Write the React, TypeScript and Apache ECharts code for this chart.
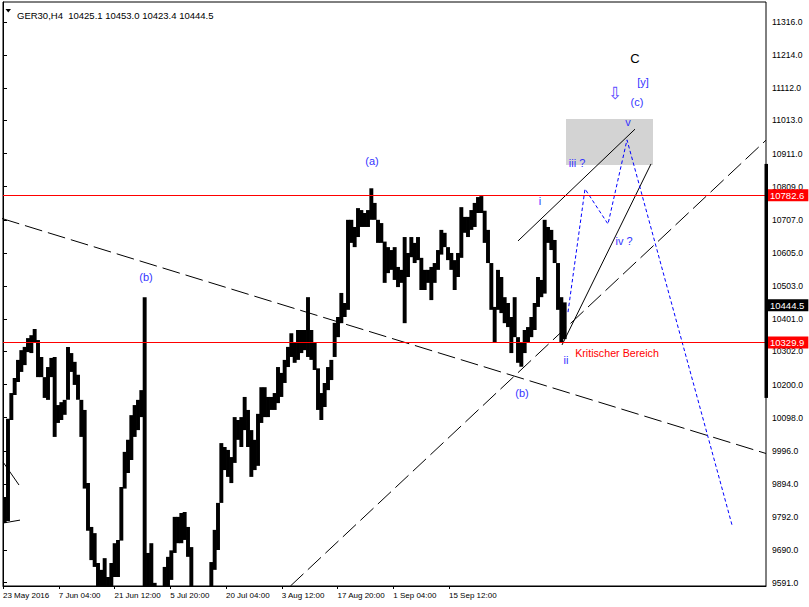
import React, { useEffect, useRef } from "react";
import * as echarts from "echarts";

// ---------- data ----------
const symbolName = "GER30,H4";
const lastBarOHLC = [10425.1, 10453.0, 10423.4, 10444.5];

// aggregated price columns (high / low)
const highs = [
  9854, 10095, 10174, 10220, 10276, 10306, 10316, 10343, 10352, 10371,
  10337, 10285, 10223, 10254, 10282, 10285, 10137, 10146, 10153, 10316,
  10297, 10270, 10230, 10153, 10122, 9897, 9762, 9743, 9651, 9630,
  9666, 9608, 9651, 9712, 9722, 9885, 9993, 10030, 10106, 10137,
  10153, 10183, 10469, 9682, 9712, 9590, 9540, 9540, 9639, 9670,
  9690, 9793, 9793, 9805, 9808, 9762, 9700, 9560, 9550, 9555,
  9560, 9570, 9654, 9753, 9836, 10020, 10008, 9999, 9977, 10100,
  10091, 10100, 10162, 10122, 10060, 10030, 10110, 10192, 10192, 10162,
  10162, 10174, 10254, 10236, 10276, 10316, 10358, 10328, 10368, 10368,
  10368, 10469, 10368, 10328, 10250, 10174, 10205, 10254, 10276, 10390,
  10408, 10482, 10451, 10707, 10707, 10685, 10743, 10737, 10728, 10737,
  10804, 10759, 10707, 10697, 10640, 10623, 10614, 10623, 10562, 10553,
  10654, 10605, 10654, 10636, 10654, 10590, 10553, 10553, 10562, 10574,
  10614, 10676, 10667, 10623, 10605, 10583, 10605, 10746, 10716, 10716,
  10737, 10759, 10777, 10780, 10735, 10676, 10574, 10439, 10553, 10531,
  10469, 10451, 10408, 10469, 10346, 10328, 10368, 10377, 10408, 10451,
  10531, 10522, 10707, 10685, 10676, 10645, 10574, 10469, 10453,
];
const lows = [
  9774, 9780, 10091, 10168, 10208, 10239, 10260, 10300, 10297, 10328,
  10223, 10223, 10159, 10153, 10223, 10039, 10082, 10091, 10107, 10153,
  10239, 10199, 10153, 10039, 9880, 9750, 9660, 9639, 9540, 9520,
  9540, 9530, 9560, 9608, 9608, 9720, 9880, 9928, 9968, 10039,
  10060, 10100, 9250, 9400, 9400, 9350, 9350, 9330, 9450, 9480,
  9599, 9682, 9712, 9712, 9722, 9670, 9500, 9380, 9370, 9380,
  9400, 9420, 9540, 9630, 9691, 9836, 9937, 9916, 9897, 9959,
  10030, 10008, 10060, 10008, 9916, 9937, 9950, 10082, 10100, 10100,
  10122, 10122, 10143, 10162, 10205, 10254, 10285, 10267, 10276, 10297,
  10306, 10285, 10276, 10245, 10122, 10091, 10131, 10183, 10214, 10285,
  10346, 10389, 10408, 10430, 10636, 10623, 10654, 10685, 10685, 10685,
  10707, 10707, 10636, 10636, 10513, 10543, 10553, 10522, 10500, 10513,
  10389, 10531, 10592, 10574, 10583, 10491, 10491, 10513, 10460, 10513,
  10553, 10600, 10623, 10583, 10553, 10491, 10531, 10590, 10667, 10654,
  10676, 10685, 10728, 10728, 10636, 10574, 10430, 10328, 10430, 10420,
  10389, 10377, 10297, 10346, 10267, 10255, 10297, 10328, 10346, 10368,
  10439, 10469, 10480, 10636, 10614, 10574, 10430, 10331, 10340,
];

const dateLabels = [
  "23 May 2016", "7 Jun 04:00", "21 Jun 12:00", "5 Jul 20:00", "20 Jul 04:00",
  "3 Aug 12:00", "17 Aug 20:00", "1 Sep 04:00", "15 Sep 12:00",
];
const columnsPerLabel = 16.725;

const priceTicks = [
  11316, 11214, 11112, 11013, 10911, 10809, 10707, 10605, 10503,
  10401, 10302, 10200, 10098, 9996, 9894, 9792, 9690, 9591,
];
const priceMin = 9580.3;
const priceMax = 11377.2;
const columnMax = 228.9;

const resistanceLevel = 10782.6;
const supportLevel = 10329.9;
const currentPrice = 10444.5;
const priceRangeMarker = [10879, 10159];

const trendDescending = [[-0.3, 10711], [228.9, 9988]];
const trendAscending = [[86.2, 9580], [228.9, 10952]];
const channelUpper = [[154.5, 10642], [189.6, 10986]];
const channelSteep = [[167.7, 10322], [194.4, 10879]];
const oldLineA = [[0, 9962], [4.8, 9891]];
const oldLineB = [[0, 9774], [5.1, 9783]];
const projection = [[169.5, 10423], [174.6, 10802], [181.5, 10694], [187.2, 10953], [218.7, 9768]];
const targetZone = [[168.9, 11017], [195, 10876]];

const blue = "#3434ff";
const annotations = [
  { text: "C", col: 189.6, price: 11202, color: "#000000", size: 13 },
  { text: "[y]", col: 192.0, price: 11131, color: blue, size: 11 },
  { text: "\u21e9", col: 183.6, price: 11097, color: "#5b4bff", size: 17, font: "DejaVu Sans" },
  { text: "(c)", col: 190.2, price: 11070, color: blue, size: 11 },
  { text: "v", col: 187.5, price: 11008, color: blue, size: 11 },
  { text: "iii ?", col: 172.2, price: 10882, color: blue, size: 11 },
  { text: "i", col: 161.1, price: 10765, color: blue, size: 11 },
  { text: "iv ?", col: 186.3, price: 10642, color: blue, size: 11 },
  { text: "ii", col: 168.9, price: 10276, color: blue, size: 11 },
  { text: "(b)", col: 155.7, price: 10174, color: blue, size: 11 },
  { text: "(a)", col: 110.7, price: 10888, color: blue, size: 11 },
  { text: "(b)", col: 42.9, price: 10531, color: blue, size: 11 },
  { text: "Kritischer Bereich", col: 184.2, price: 10297, color: "#ff0000", size: 10.7 },
];

const FONT = "Liberation Sans";

function lineSeries(data: number[][], type: any, color = "#000000") {
  return {
    type: "line",
    data,
    symbol: "none",
    silent: true,
    z: 3,
    lineStyle: { color, width: 1, type },
    clip: true,
  };
}

function levelLabel(bg: string) {
  return {
    show: true,
    position: "end",
    distance: 1,
    color: "#ffffff",
    backgroundColor: bg,
    padding: [1, 4, 1, 3],
    fontSize: 9.5,
    fontFamily: FONT,
    formatter: (p: any) => Number(p.value).toFixed(1),
  };
}

export default function App() {
  const ref = useRef<HTMLDivElement>(null);
  useEffect(() => {
    if (!ref.current) return;
    const chart = echarts.init(ref.current, null, { renderer: "svg" });
    const tickCols = dateLabels.map((_, k) => k * columnsPerLabel);
    const option: any = {
      animation: false,
      backgroundColor: "#ffffff",
      textStyle: { fontFamily: FONT },
      title: {
        text: `${symbolName}  ${lastBarOHLC.map((v) => v.toFixed(1)).join(" ")}`,
        left: 12,
        top: 5,
        textStyle: { fontSize: 9.5, fontWeight: "normal", color: "#000", fontFamily: FONT },
      },
      graphic: [
        {
          type: "polygon",
          shape: { points: [[5.5, 9], [11, 9], [8.25, 12.5]] },
          style: { fill: "#000" },
          silent: true,
        },
      ],
      grid: {
        left: 3,
        top: 2,
        right: 43,
        bottom: 21,
        show: true,
        borderColor: "#000",
        borderWidth: 1,
        backgroundColor: "transparent",
      },
      xAxis: {
        type: "value",
        min: 0,
        max: columnMax,
        axisLine: { show: true, lineStyle: { color: "#000" } },
        axisTick: { show: true, length: 3, customValues: tickCols, lineStyle: { color: "#000" } },
        axisLabel: {
          customValues: tickCols,
          formatter: (v: number) => dateLabels[Math.round(v / columnsPerLabel)] ?? "",
          align: "left",
          color: "#000",
          fontSize: 8,
          fontFamily: FONT,
          margin: 5,
        },
        splitLine: { show: false },
      },
      yAxis: {
        type: "value",
        position: "right",
        min: priceMin,
        max: priceMax,
        axisLine: { show: true, lineStyle: { color: "#000" } },
        axisTick: { show: true, length: 4, customValues: priceTicks, lineStyle: { color: "#000" } },
        axisLabel: {
          customValues: priceTicks,
          formatter: (v: number) => v.toFixed(1),
          color: "#000",
          fontSize: 8.6,
          fontFamily: FONT,
          margin: 6,
        },
        splitLine: { show: false },
      },
      series: [
        {
          type: "line",
          data: [],
          z: 1,
          silent: true,
          markArea: {
            silent: true,
            itemStyle: { color: "#d3d3d3" },
            data: [[{ coord: targetZone[0] }, { coord: targetZone[1] }]],
          },
        },
        {
          type: "custom",
          z: 2,
          clip: true,
          silent: true,
          data: highs.map((h, i) => [i, h, lows[i]]),
          encode: { x: 0, y: [1, 2] },
          renderItem: (_params: any, api: any) => {
            const i = api.value(0);
            const p1 = api.coord([i, api.value(1)]);
            const p2 = api.coord([i + 1, api.value(2)]);
            return {
              type: "rect",
              shape: {
                x: p1[0] - 0.3,
                y: p1[1],
                width: p2[0] - p1[0] + 0.6,
                height: Math.max(1, p2[1] - p1[1]),
              },
              style: { fill: "#000" },
            };
          },
        },
        lineSeries(trendDescending, [18, 6]),
        lineSeries(trendAscending, [18, 6]),
        lineSeries(channelUpper, "solid"),
        lineSeries(channelSteep, "solid"),
        lineSeries(oldLineA, "solid"),
        lineSeries(oldLineB, "solid"),
        lineSeries(projection, [3.5, 2.5], "#0000ff"),
        {
          type: "line",
          data: [],
          z: 5,
          silent: true,
          clip: false,
          markLine: {
            silent: true,
            symbol: "none",
            animation: false,
            data: [
              { yAxis: resistanceLevel, lineStyle: { color: "#ff0000", width: 1, type: "solid" }, label: levelLabel("#ff0000") },
              { yAxis: supportLevel, lineStyle: { color: "#ff0000", width: 1, type: "solid" }, label: levelLabel("#ff0000") },
              { yAxis: currentPrice, lineStyle: { color: "rgba(0,0,0,0)", width: 0 }, label: levelLabel("#000000") },
            ],
          },
        },
        {
          type: "custom",
          z: 4,
          clip: false,
          silent: true,
          data: annotations.map((a) => [a.col, a.price]),
          renderItem: (params: any, api: any) => {
            const a = annotations[params.dataIndex];
            const pt = api.coord([a.col, a.price]);
            return {
              type: "text",
              x: pt[0],
              y: pt[1],
              style: {
                text: a.text,
                fill: a.color,
                fontSize: a.size,
                fontFamily: (a as any).font ?? FONT,
                align: "center",
                verticalAlign: "middle",
              },
            };
          },
        },
        {
          type: "custom",
          z: 6,
          clip: false,
          silent: true,
          data: [priceRangeMarker],
          renderItem: (_params: any, api: any) => {
            const top = api.coord([columnMax, api.value(0)]);
            const bot = api.coord([columnMax, api.value(1)]);
            return {
              type: "rect",
              shape: { x: top[0] - 1.5, y: top[1], width: 3.5, height: bot[1] - top[1] },
              style: { fill: "#000" },
            };
          },
        },
      ],
    };
    chart.setOption(option);
    return () => chart.dispose();
  }, []);
  return (
    <div
      ref={ref}
      style={{ position: "fixed", left: 0, top: 0, width: 809, height: 607, background: "#fff" }}
    />
  );
}
